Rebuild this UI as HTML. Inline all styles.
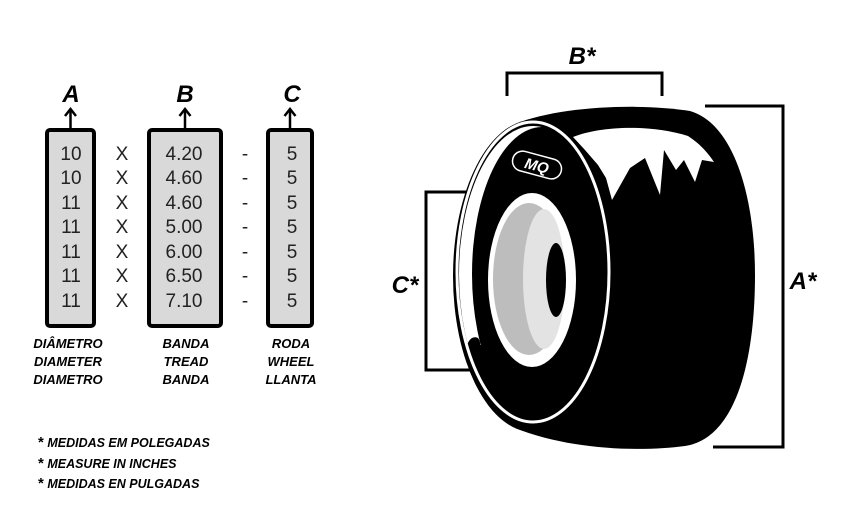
<!DOCTYPE html>
<html><head><meta charset="utf-8"><style>
html,body{margin:0;padding:0;background:#fff;}
svg{display:block;}
.n{font-family:"Liberation Sans",sans-serif;font-size:19px;fill:#222;}
.h{font-family:"Liberation Sans",sans-serif;font-weight:bold;font-style:italic;fill:#000;}
</style></head><body>
<svg width="852" height="520" viewBox="0 0 852 520" xmlns="http://www.w3.org/2000/svg">
<defs><clipPath id="cc"><rect x="440" y="100" width="200" height="245"/></clipPath></defs>
<rect width="852" height="520" fill="#fff"/>
<g stroke="#000" stroke-width="4" fill="#d9d9d9">
<rect x="47" y="130" width="47" height="196" rx="3"/>
<rect x="149" y="130" width="72" height="196" rx="3"/>
<rect x="268" y="130" width="44" height="196" rx="3"/>
</g>
<g stroke="#000" stroke-width="2.5" fill="none">
<line x1="70.5" y1="128" x2="70.5" y2="110"/><polyline points="65,116 70.5,109 76,116"/>
<line x1="185" y1="128" x2="185" y2="110"/><polyline points="179.5,116 185,109 190.5,116"/>
<line x1="290" y1="128" x2="290" y2="110"/><polyline points="284.5,116 290,109 295.5,116"/>
</g>
<g class="h" font-size="24" text-anchor="middle">
<text x="71" y="102">A</text><text x="185" y="102">B</text><text x="292" y="102">C</text>
</g>
<g class="n" text-anchor="middle">
<text x="71" y="160">10</text><text x="71" y="184">10</text><text x="71" y="209">11</text><text x="71" y="233">11</text><text x="71" y="258">11</text><text x="71" y="282">11</text><text x="71" y="307">11</text>
<text x="122" y="160">X</text><text x="122" y="184">X</text><text x="122" y="209">X</text><text x="122" y="233">X</text><text x="122" y="258">X</text><text x="122" y="282">X</text><text x="122" y="307">X</text>
<text x="184" y="160">4.20</text><text x="184" y="184">4.60</text><text x="184" y="209">4.60</text><text x="184" y="233">5.00</text><text x="184" y="258">6.00</text><text x="184" y="282">6.50</text><text x="184" y="307">7.10</text>
<text x="245" y="160">-</text><text x="245" y="184">-</text><text x="245" y="209">-</text><text x="245" y="233">-</text><text x="245" y="258">-</text><text x="245" y="282">-</text><text x="245" y="307">-</text>
<text x="292" y="160">5</text><text x="292" y="184">5</text><text x="292" y="209">5</text><text x="292" y="233">5</text><text x="292" y="258">5</text><text x="292" y="282">5</text><text x="292" y="307">5</text>
</g>
<g class="h" font-size="13" text-anchor="middle">
<text x="68" y="348">DIÂMETRO</text><text x="68" y="366">DIAMETER</text><text x="68" y="384">DIAMETRO</text>
<text x="186" y="348">BANDA</text><text x="186" y="366">TREAD</text><text x="186" y="384">BANDA</text>
<text x="291" y="348">RODA</text><text x="291" y="366">WHEEL</text><text x="291" y="384">LLANTA</text>
</g>
<g class="h" font-size="12.5">
<text x="38" y="447"><tspan font-size="15" font-style="normal">*</tspan> MEDIDAS EM POLEGADAS</text>
<text x="38" y="468"><tspan font-size="15" font-style="normal">*</tspan> MEASURE IN INCHES</text>
<text x="38" y="488"><tspan font-size="15" font-style="normal">*</tspan> MEDIDAS EN PULGADAS</text>
</g>
<g stroke="#000" stroke-width="3" fill="none">
<polyline points="507,96 507,73 662,73 662,96"/>
<polyline points="705,106 783,106 783,447 713,447"/>
<polyline points="501,192 426,192 426,370 503,370"/>
</g>
<ellipse cx="533" cy="276" rx="80" ry="156" fill="#000"/>
<path d="M515,124 C560,106 640,103 690,111 C735,124 755,200 755,275 C755,355 738,438 685,446 C640,452 570,450 515,428 Z" fill="#000"/>
<path d="M573,137 C600,126 650,124 688,136 C702,145 710,156 714,162 L702,160 L695,182 L684,160 L676,170 L664,150 L660,195 L645,158 L630,168 L612,200 L606,178 L598,165 L585,150 Z" fill="#fff"/>
<g clip-path="url(#cc)">
<ellipse cx="533" cy="274" rx="74" ry="148" fill="#fff"/>
</g>
<ellipse cx="542" cy="274" rx="70" ry="147" fill="#000"/>
<path d="M466,360 C464,346 470,334 478,338 C482,343 480,350 476,354 Z" fill="#000"/>
<ellipse cx="533" cy="272" rx="76" ry="150" fill="none" stroke="#fff" stroke-width="3"/>
<g stroke="#000" stroke-width="3">
<line x1="426" y1="192" x2="456" y2="192"/>
<line x1="426" y1="370" x2="462" y2="370"/>
</g>
<g transform="translate(537,165) rotate(15)">
<rect x="-25" y="-10" width="50" height="20" rx="10" fill="#000" stroke="#fff" stroke-width="1.5"/>
<text x="0" y="6" text-anchor="middle" font-family="Liberation Sans,sans-serif" font-weight="bold" font-style="italic" font-size="15" fill="#fff">MQ</text>
</g>
<ellipse cx="532" cy="280" rx="44" ry="87" fill="#fff"/>
<ellipse cx="529" cy="279" rx="36" ry="76" fill="#bdbdbd"/>
<ellipse cx="544" cy="279" rx="21" ry="70" fill="#e3e3e3"/>
<ellipse cx="556" cy="280" rx="10" ry="37" fill="#000"/>
<g class="h" font-size="24" text-anchor="middle">
<text x="582" y="64">B*</text>
<text x="803" y="289">A*</text>
<text x="405" y="293">C*</text>
</g>
</svg>
</body></html>
